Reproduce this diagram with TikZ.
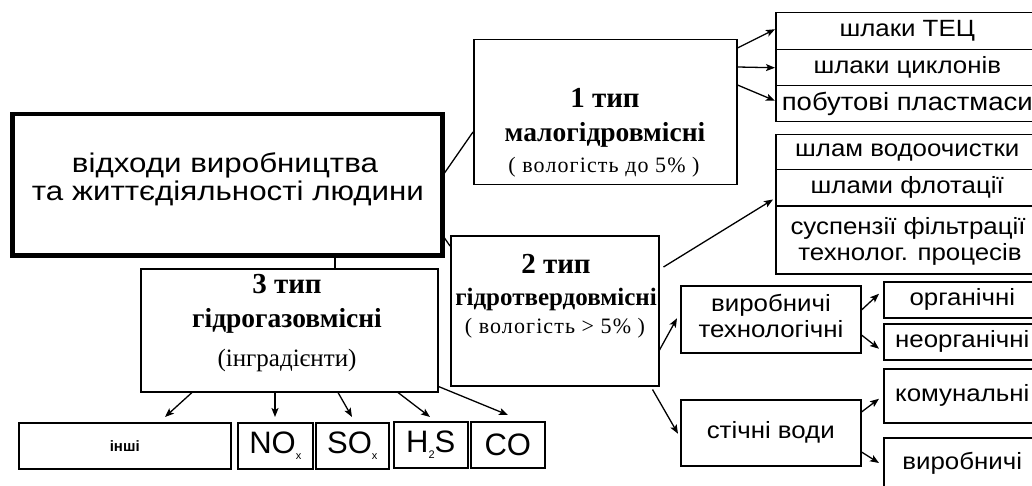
\documentclass[tikz,border=0pt]{standalone}
\usepackage{fontspec}
\setmainfont{Liberation Sans}
\newfontfamily\sansw{Liberation Sans}[FakeStretch=1.1]
\newfontfamily\sansm{Liberation Sans}[FakeStretch=1.16]
\newfontfamily\tnr{Liberation Serif}
\newfontfamily\tnrsp{Liberation Serif}[LetterSpace=5]
\usetikzlibrary{arrows.meta,calc}
\newcommand\fsz[1]{\fontsize{#1}{#1}\selectfont}
\newcommand\subx[1]{\raisebox{-0.4ex}{\fontsize{11}{11}\selectfont #1}}
\begin{document}
\begin{tikzpicture}[x=1pt,y=-1pt,
  box/.style={draw, line width=1.5pt, inner sep=0pt, anchor=north west, align=center},
  thick box/.style={box, line width=4.5pt},
  conn/.style={line width=1.3pt},
  arr/.style={line width=1.3pt, -{Stealth[length=9pt,width=7pt,inset=2pt]}},
  sans/.style={font=\sansw\fsz{23.5}},
  typehead/.style={font=\tnr\bfseries\fsz{29}, anchor=base},
  typesub/.style={font=\tnr\bfseries\fsz{27.5}, anchor=base},
  typepar/.style={font=\tnrsp\fsz{22}, anchor=base},
  txt/.style={anchor=base}
]
\useasboundingbox (0,0) rectangle (1032,486);
\fill[white] (0,0) rectangle (1032,486);

% main box
\node[thick box, minimum width=430pt, minimum height=141pt] (m) at (10,112) {};
\node[txt, font=\sansm\fsz{27}] (m1) at (225,173) {відходи виробництва};
\node[txt, font=\sansm\fsz{27}] (m2) at (228,201) {та життєдіяльності людини};

% type 1
\node[box, minimum width=263pt, minimum height=145pt] (t1) at (473,39) {};
\node[typehead] (t1a) at (605,108) {1 тип};
\node[typesub] (t1b) at (605,142) {малогідровмісні};
\node[typepar] (t1c) at (604,173) {( вологість до 5\% )};

% group 1
\node[box, sans, minimum width=263pt, minimum height=37pt] (r1) at (775,12) {шлаки ТЕЦ};
\node[box, sans, minimum width=263pt, minimum height=36pt] (r2) at (775,49) {шлаки циклонів};
\node[box, sans, font=\sansw\fsz{25}, minimum width=263pt, minimum height=36pt] (r3) at (775,85) {побутові пластмаси};

% group 2
\node[box, sans, minimum width=263pt, minimum height=35pt] (s1) at (775,134) {шлам водоочистки};
\node[box, sans, minimum width=263pt, minimum height=36pt] (s2) at (775,169) {шлами флотації};
\node[box, minimum width=263pt, minimum height=67pt] (s3) at (775,206) {};
\node[txt, sans] (s3a) at (908,235) {суспензії фільтрації};
\node[txt, sans] (s3b) at (910,260) {технолог. процесів};

% type 2
\node[box, minimum width=208pt, minimum height=150pt] (t2) at (450,235) {};
\node[typehead] (t2a) at (556,273) {2 тип};
\node[typesub, font=\tnr\bfseries\fsz{25}] (t2b) at (556,305) {гідротвердовмісні};
\node[typepar] (t2c) at (555,333) {( вологість > 5\% )};

% type 3
\node[box, minimum width=297pt, minimum height=123pt] (t3) at (140,268) {};
\node[typehead] (t3a) at (287,293) {3 тип};
\node[typesub] (t3b) at (287,327) {гідрогазовмісні};
\node[txt, font=\tnr\fsz{25}] (t3c) at (287,366) {(інградієнти)};

% second level of type 2
\node[box, minimum width=180pt, minimum height=67pt] (v) at (680,285) {};
\node[txt, sans] (va) at (771,311) {виробничі};
\node[txt, sans] (vb) at (771,337) {технологічні};
\node[box, sans, minimum width=180pt, minimum height=66pt] (c) at (680,399) {стічні води};

\node[box, sans, minimum width=157pt, minimum height=36pt] (o) at (883,281) {органічні};
\node[box, sans, minimum width=157pt, minimum height=36pt] (n) at (883,323) {неорганічні};
\node[box, sans, minimum width=157pt, minimum height=54pt] (k) at (883,368) {комунальні};
\node[box, sans, minimum width=157pt, minimum height=52pt] (w) at (883,437) {виробничі};

% bottom row
\node[box, font=\bfseries\fsz{15}, minimum width=212pt, minimum height=46pt] (b1) at (18,422) {інші};
\node[box, font=\fsz{31}, minimum width=75pt, minimum height=46pt] (b2) at (237,422) {NO\subx{x}};
\node[box, font=\fsz{31}, minimum width=73pt, minimum height=46pt] (b3) at (315,422) {SO\subx{x}};
\node[box, font=\fsz{31}, minimum width=74pt, minimum height=46pt] (b4) at (393,421) {H\subx{2}S};
\node[box, font=\fsz{31}, minimum width=74pt, minimum height=46pt] (b5) at (470,421) {CO};

% connectors from main box
\draw[conn] ($(m.north east)+(0,61)$) -- ($(t1.north west)+(0,93)$);
\draw[conn] ($(m.north east)+(0,126)$) -- ($(t2.north west)+(0,11)$);
\draw[conn] ($(m.south west)+(325,0)$) -- ($(t3.north west)+(195,0)$);

% type 1 arrows
\draw[arr] ($(t1.north east)+(0,9)$) -- ($(r1.west)+(0,-2)$);
\draw[arr] ($(t1.north east)+(0,28)$) -- (r2.west);
\draw[arr] ($(t1.north east)+(0,46)$) -- ($(r3.west)+(0,-3)$);

% type 2 arrows
\draw[arr] ($(t2.north east)+(4,32)$) -- ($(s2.south west)+(-2,-7)$);
\draw[arr] ($(t2.north east)+(0,115)$) -- ($(v.west)+(-3,-1)$);
\draw[arr] ($(t2.south east)+(-7,3)$) -- ($(c.west)+(-2,1)$);

\draw[arr] ($(v.north east)+(0,25)$) -- ($(o.west)+(-4,-6)$);
\draw[arr] ($(v.north east)+(0,50)$) -- ($(n.west)+(-4,7)$);
\draw[arr] ($(c.north east)+(0,13)$) -- ($(k.west)+(-4,3)$);
\draw[arr] ($(c.north east)+(0,53)$) -- ($(w.north west)+(-4,26)$);

% type 3 arrows
\draw[arr] ($(t3.south west)+(52,0)$) -- ($(b1.north west)+(147,-5)$);
\draw[arr] ($(t3.south west)+(135,0)$) -- ($(b2.north west)+(38,-5)$);
\draw[arr] ($(t3.south west)+(198,0)$) -- ($(b3.north west)+(37,-5)$);
\draw[arr] ($(t3.south west)+(258,0)$) -- ($(b4.north west)+(37,-4)$);
\draw[arr] ($(t3.south east)+(0,-6)$) -- ($(b5.north west)+(38,-6)$);
\end{tikzpicture}
\end{document}
